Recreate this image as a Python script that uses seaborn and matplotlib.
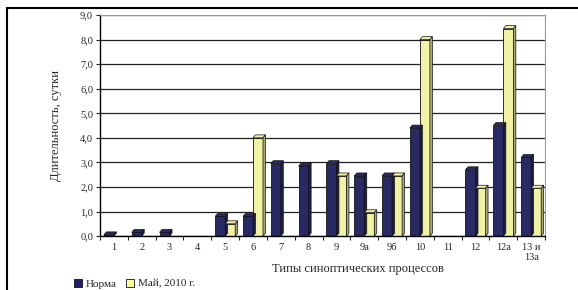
import pandas as pd
import seaborn as sns
import matplotlib.pyplot as plt
from matplotlib.patches import Polygon, Rectangle

types = ['1', '2', '3', '4', '5', '6', '7', '8', '9', '9а', '9б', '10', '11', '12', '12а', '13 и\n13а']
norma = [0.05, 0.15, 0.15, 0.0, 0.8, 0.8, 2.95, 2.85, 2.95, 2.45, 2.45, 4.4, 0.0, 2.7, 4.5, 3.2]
may2010 = [0.0, 0.0, 0.0, 0.0, 0.5, 4.0, 0.0, 0.0, 2.45, 0.95, 2.45, 8.0, 0.0, 1.95, 8.45, 1.95]

df = pd.DataFrame({
    'Тип': types * 2,
    'Длительность': norma + may2010,
    'Серия': ['Норма'] * len(types) + ['Май, 2010 г.'] * len(types),
})

sns.set_style('white')
plt.rcParams['font.family'] = ['Liberation Serif', 'DejaVu Serif']

colors = {'Норма': '#1f1f6e', 'Май, 2010 г.': '#ffff99'}

fig = plt.figure(figsize=(5.78, 2.90), dpi=100)
ax = fig.add_axes([0.173, 0.186, 0.77, 0.762])
sns.barplot(data=df, x='Тип', y='Длительность', hue='Серия', palette=colors,
            width=0.72, edgecolor='#111111', linewidth=0.6, legend=False, ax=ax)

ax.set_ylim(0, 9)
ax.set_xlim(-0.5, len(types) - 0.5)
ax.set_yticks(range(0, 10))
ax.set_yticklabels([f'{v},0' for v in range(0, 10)], fontsize=7.5)
ax.set_xticks(range(len(types)))
ax.set_xticklabels(types, fontsize=7.5)
ax.set_xticks([i + 0.5 for i in range(-1, len(types))], minor=True)
ax.tick_params(axis='x', which='major', length=0, pad=5)
ax.tick_params(axis='x', which='minor', length=3, direction='out', bottom=True, width=0.8)
ax.tick_params(axis='y', length=3, direction='out', left=True, width=0.8, pad=2)
ax.yaxis.grid(True, color='#222222', linewidth=0.9)
ax.set_axisbelow(True)
for s in ['top', 'right']:
    ax.spines[s].set_color('#999999')
for s in ['left', 'bottom']:
    ax.spines[s].set_color('black')
    ax.spines[s].set_linewidth(1.0)

# псевдо-3D грани столбиков
dx, dy = 0.09, 0.12
for p in ax.patches:
    h = p.get_height()
    if h <= 0:
        continue
    x0, w = p.get_x(), p.get_width()
    fc = p.get_facecolor()
    top = Polygon([(x0, h), (x0 + dx, h + dy), (x0 + w + dx, h + dy), (x0 + w, h)],
                  closed=True, facecolor=fc, edgecolor='#111111', linewidth=0.5, zorder=3)
    side = Polygon([(x0 + w, 0), (x0 + w + dx, dy), (x0 + w + dx, h + dy), (x0 + w, h)],
                   closed=True, facecolor=tuple(c * 0.7 for c in fc[:3]), edgecolor='#111111',
                   linewidth=0.5, zorder=3)
    ax.add_patch(top)
    ax.add_patch(side)

ax.set_xlabel('Типы синоптических процессов', fontsize=9)
ax.xaxis.set_label_coords(0.58, -0.12)
ax.set_ylabel('Длительность, сутки', fontsize=9)
ax.yaxis.set_label_coords(-0.085, 0.5)

handles = [Rectangle((0, 0), 1, 1, facecolor=colors[k], edgecolor='#111111', linewidth=0.6)
           for k in ['Норма', 'Май, 2010 г.']]
fig.legend(handles, ['Норма', 'Май, 2010 г.'], loc='lower left', bbox_to_anchor=(0.11, -0.03),
           ncol=2, frameon=False, fontsize=8, handlelength=0.8, handleheight=0.8,
           handletextpad=0.3, columnspacing=0.8)

fig.patches.append(Rectangle((0.012, -0.1), 1.1, 1.072, transform=fig.transFigure,
                             fill=False, edgecolor='black', linewidth=1.5))

fig.savefig('out.png', dpi=100)
